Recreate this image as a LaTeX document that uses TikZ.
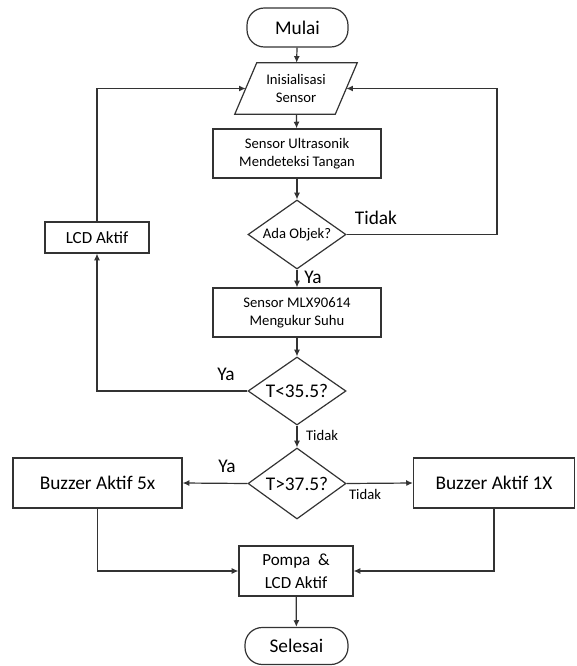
\documentclass[tikz,border=0pt]{standalone}
\usepackage{fontspec}
\setmainfont{Carlito}
\usetikzlibrary{shapes.geometric,arrows.meta}

\newcommand{\fkecil}{\fontsize{11}{13.5}\selectfont}
\newcommand{\fsedang}{\fontsize{12.75}{17}\selectfont}
\newcommand{\fbesar}{\fontsize{14.5}{17}\selectfont}

\begin{document}
\begin{tikzpicture}[x=0.75pt,y=0.75pt,yscale=-1,
    garis/.style={draw=black!80,line width=0.9pt},
    panah/.style={garis,-{Latex[length=5pt,width=4.5pt]}},
    terminal/.style={garis,rectangle,rounded corners=13pt,inner sep=0pt,font=\fbesar},
    proses/.style={garis,rectangle,inner sep=0pt,align=center},
    keputusan/.style={garis,diamond,aspect=1.42,inner sep=0pt}]
        \useasboundingbox (0,0) rectangle (576,666);

        %Shape: Terminal
        \node [terminal,minimum width=75.75pt,minimum height=29.25pt] (mulai) at (297.5,27.5) {Mulai};
        %Shape: Parallelogram
        \node [inner sep=0pt,minimum width=75pt,minimum height=38.25pt,align=center,font=\fkecil] (init) at (296,88.5) {Inisialisasi\\Sensor};
        \draw [garis] ([xshift=8.25pt]init.north west) -- ([xshift=8.25pt]init.north east) -- ([xshift=-8.25pt]init.south east) -- ([xshift=-8.25pt]init.south west) -- cycle;
        %Shape: Rectangle
        \node [proses,minimum width=126pt,minimum height=36.75pt,font=\fkecil] (ultra) at (297,153.5) {Sensor Ultrasonik\\Mendeteksi Tangan};
        %Shape: Diamond
        \node [keputusan,minimum width=73.5pt,minimum height=51.75pt,font=\fkecil] (ada) at (297,234.5) {Ada Objek?};
        %Shape: Rectangle
        \node [proses,minimum width=126pt,minimum height=36.75pt,font=\fkecil] (mlx) at (297,312.5) {Sensor MLX90614\\Mengukur Suhu};
        %Shape: Diamond
        \node [keputusan,minimum width=73.5pt,minimum height=51pt,font=\fbesar] (tkecil) at (297,391) {T<35.5?};
        %Shape: Diamond
        \node [keputusan,minimum width=73.5pt,minimum height=53.25pt,font=\fbesar] (tbesar) at (297,483.5) {T>37.5?};
        %Shape: Rectangle
        \node [proses,minimum width=78pt,minimum height=23.25pt,font=\fsedang] (lcd) at (97,237.5) {LCD Aktif};
        %Shape: Rectangle
        \node [proses,minimum width=126.75pt,minimum height=37.5pt,font=\fbesar] (buzlima) at (97.5,483) {Buzzer Aktif 5x};
        %Shape: Rectangle
        \node [proses,minimum width=120.75pt,minimum height=37.5pt,font=\fbesar] (buzsatu) at (494,483) {Buzzer Aktif 1X};
        %Shape: Rectangle
        \node [proses,minimum width=85.5pt,minimum height=37.5pt,font=\fsedang] (pompa) at (296,571) {Pompa\ \ \&\\LCD Aktif};
        %Shape: Terminal
        \node [terminal,minimum width=77.25pt,minimum height=27.75pt] (selesai) at (296.5,646) {Selesai};

        \coordinate (loopkanan) at (497,88.5);

        %Straight Lines
        \draw [panah] (mulai) -- (init);
        \draw [panah] (init) -- (ultra);
        \draw [panah] (ultra) -- (ada);
        \draw [panah] (ada) -- (mlx);
        \draw [panah] (ada.east) -| (loopkanan) -- (init.east);
        \draw [panah] (mlx) -- (tkecil);
        \draw [panah] (tkecil.west) -| (lcd.south);
        \draw [panah] (lcd.north) |- (init.west);
        \draw [panah] (tkecil) -- (tbesar);
        \draw [panah] (tbesar.west) -- (buzlima.east);
        \draw [panah] (tbesar.east) -- (buzsatu.west);
        \draw [panah] (buzlima.south) |- (pompa.west);
        \draw [panah] (buzsatu.south) |- (pompa.east);
        \draw [panah] (pompa) -- (selesai);

        % Text Node
        \node [font=\fbesar] (ya1) at (313,277) {Ya};
        % Text Node
        \node [font=\fbesar] (tidak1) at (376,218) {Tidak};
        % Text Node
        \node [font=\fbesar] (ya2) at (226,374) {Ya};
        % Text Node
        \node [font=\fkecil] (tidak2) at (322,435) {Tidak};
        % Text Node
        \node [font=\fbesar] (ya3) at (227,466) {Ya};
        % Text Node
        \node [font=\fkecil] (tidak3) at (365,494) {Tidak};

\end{tikzpicture}
\end{document}
